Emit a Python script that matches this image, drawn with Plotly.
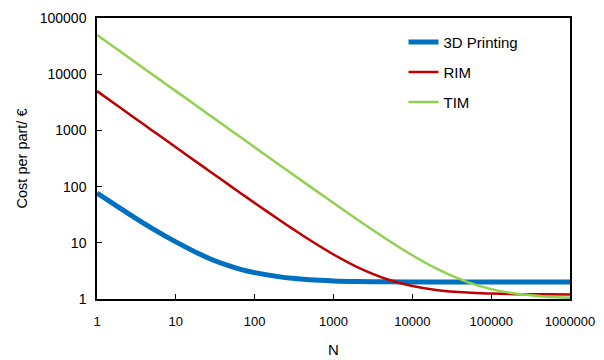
import plotly.graph_objects as go

# Values
N = [1, 2, 3, 5, 7, 10, 20, 30, 50, 70, 100, 200, 300, 500, 1000, 2000,
     5000, 10000, 20000, 50000, 100000, 200000, 500000, 1000000]
cost_3d = [77, 40.5, 28, 18, 13.7, 10.4, 6.3, 4.9, 3.8, 3.3, 2.95, 2.5,
           2.33, 2.2, 2.1, 2.05, 2.02, 2.0, 2.0, 2.0, 2.0, 2.0, 2.0, 2.0]
cost_rim = [5000, 2500, 1668, 1000, 715, 500, 251, 168, 101, 72.6, 51.2, 26.2,
            17.9, 11.2, 6.2, 3.7, 2.2, 1.7, 1.45, 1.3, 1.25, 1.22, 1.21, 1.2]
cost_tim = [50000, 25000, 16670, 10000, 7140, 5000, 2500, 1670, 1000, 715, 500,
            250, 168, 101, 51, 26, 11, 6, 3.5, 2.0, 1.5, 1.25, 1.1, 1.05]

x_ticks = [1, 10, 100, 1000, 10000, 100000, 1000000]
x_tick_labels = ["1", "10", "100", "1000", "10000", "100000", "1000000"]
y_ticks = [1, 10, 100, 1000, 10000, 100000]
y_tick_labels = ["1", "10", "100", "1000", "10000", "100000"]

FONT = "Liberation Sans, Arial, Helvetica, sans-serif"

fig = go.Figure()
fig.add_trace(go.Scatter(x=N, y=cost_3d, mode="lines", name="3D Printing",
                         legendgroup="a", line=dict(color="#0070C0", width=5, shape="spline")))
fig.add_trace(go.Scatter(x=N, y=cost_rim, mode="lines", name="RIM",
                         legendgroup="b", line=dict(color="#C00000", width=2.5, shape="spline")))
fig.add_trace(go.Scatter(x=N, y=cost_tim, mode="lines", name="TIM",
                         legendgroup="c", line=dict(color="#92D050", width=2.5, shape="spline")))

axis_common = dict(
    showline=True, linecolor="black", linewidth=1.5, mirror=True,
    ticks="inside", ticklen=5, tickwidth=1.2, tickcolor="black",
    showgrid=False, zeroline=False, automargin=False,
)

fig.update_xaxes(type="log", range=[0, 6], tickvals=x_ticks, ticktext=x_tick_labels,
                 ticklabelstandoff=10,
                 tickfont=dict(family=FONT, size=13, color="black"),
                 title=dict(text="N", font=dict(family=FONT, size=15, color="black"), standoff=16),
                 **axis_common)
fig.update_yaxes(type="log", range=[0, 5], tickvals=y_ticks, ticktext=y_tick_labels,
                 ticklabelstandoff=6,
                 tickfont=dict(family=FONT, size=14, color="black"),
                 title=dict(text="Cost per part/ €", font=dict(family=FONT, size=14.5, color="black"), standoff=9),
                 **axis_common)

fig.update_layout(
    width=604, height=360,
    margin=dict(l=89, r=42, t=10, b=69),
    paper_bgcolor="white", plot_bgcolor="white",
    font=dict(family=FONT, size=14, color="black"),
    legend=dict(x=0.648, y=0.972, xanchor="left", yanchor="top",
                bgcolor="rgba(0,0,0,0)", traceorder="grouped", tracegroupgap=7.5,
                font=dict(family=FONT, size=15, color="black")),
)

fig.write_html("out.html")
